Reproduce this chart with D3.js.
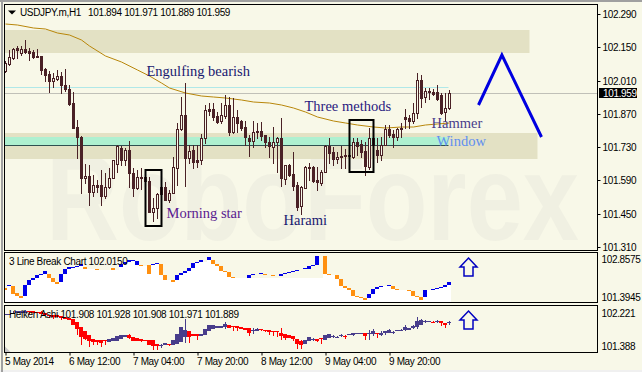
<!DOCTYPE html>
<html>
<head>
<meta charset="utf-8">
<style>
  html, body { margin: 0; padding: 0; background: #f8f8e8; overflow: hidden; }
  text { font-family: 'Liberation Sans', sans-serif; font-size: 10px; letter-spacing: -0.35px; fill: #000; }
  .note { font-family: 'Liberation Serif', serif; font-size: 14.5px; letter-spacing: 0; }
  .domain { display: none; }
  .tick line { stroke: #000; }
</style>
<script src="https://cdn.jsdelivr.net/npm/d3@7"></script>
</head>
<body>
<script>
// main chart, one value per hourly bar
const highs = [
  102.094,102.140,102.149,102.157,102.157,102.182,102.149,102.140,102.144,102.115,
  102.064,102.052,102.043,102.056,102.047,102.060,101.993,101.963,101.845,101.777,
  101.659,101.655,101.613,101.592,101.634,101.621,101.643,101.676,101.739,101.735,
  101.727,101.756,101.643,101.634,101.643,101.613,101.605,101.516,101.537,101.571,
  101.584,101.550,101.689,101.832,101.942,102.001,101.739,101.739,101.739,101.786,
  101.908,101.917,101.917,101.879,101.917,101.950,101.942,101.938,101.887,101.845,
  101.841,101.782,101.841,101.832,101.837,101.782,101.773,101.815,101.773,101.853,
  101.655,101.659,101.710,101.584,101.567,101.651,101.664,101.651,101.647,101.634,
  101.739,101.769,101.731,101.710,101.735,101.723,101.718,101.769,101.769,101.761,
  101.752,101.811,101.777,101.769,101.773,101.824,101.824,101.803,101.811,101.832,
  101.891,101.866,101.917,102.043,102.035,101.980,101.980,101.976,101.993,101.959,101.959,101.971
]
const lows = [
  102.047,102.077,102.102,102.106,102.119,102.127,102.098,102.106,102.111,102.039,
  102.009,101.963,101.984,102.014,101.959,101.967,101.908,101.811,101.685,101.537,
  101.579,101.486,101.524,101.541,101.486,101.516,101.558,101.600,101.626,101.655,
  101.655,101.562,101.524,101.554,101.554,101.579,101.457,101.419,101.432,101.486,
  101.508,101.499,101.537,101.571,101.803,101.567,101.664,101.643,101.647,101.659,
  101.748,101.866,101.845,101.832,101.832,101.853,101.782,101.790,101.794,101.803,
  101.739,101.693,101.731,101.769,101.761,101.731,101.689,101.664,101.626,101.567,
  101.575,101.609,101.550,101.465,101.449,101.558,101.592,101.584,101.550,101.571,
  101.626,101.664,101.655,101.664,101.643,101.643,101.634,101.685,101.697,101.689,
  101.613,101.638,101.626,101.668,101.676,101.739,101.773,101.731,101.761,101.773,
  101.811,101.811,101.832,101.853,101.900,101.921,101.934,101.950,101.929,101.870,101.841,101.889
]
const opens = [
  102.052,102.081,102.106,102.149,102.127,102.144,102.136,102.132,102.115,102.115,
  102.060,102.039,102.009,102.018,102.030,101.993,101.976,101.917,101.815,101.773,
  101.600,101.609,101.541,101.571,101.571,101.524,101.562,101.600,101.659,101.727,
  101.676,101.718,101.621,101.558,101.605,101.605,101.588,101.457,101.474,101.533,
  101.562,101.508,101.537,101.643,101.807,101.866,101.685,101.718,101.676,101.676,
  101.769,101.891,101.891,101.862,101.841,101.862,101.908,101.794,101.858,101.841,
  101.815,101.769,101.756,101.794,101.799,101.782,101.752,101.731,101.752,101.769,
  101.596,101.655,101.617,101.571,101.482,101.558,101.647,101.647,101.592,101.579,
  101.626,101.735,101.710,101.681,101.689,101.697,101.697,101.689,101.752,101.744,
  101.714,101.647,101.769,101.718,101.697,101.739,101.807,101.786,101.773,101.807,
  101.858,101.853,101.841,101.874,102.014,101.942,101.967,101.963,101.963,101.950,101.879,101.894
]
const closes = [
  102.085,102.111,102.144,102.140,102.144,102.132,102.127,102.111,102.111,102.056,
  102.035,102.009,102.022,102.030,101.993,101.976,101.912,101.811,101.773,101.600,
  101.609,101.541,101.571,101.562,101.524,101.562,101.600,101.676,101.735,101.676,
  101.718,101.621,101.558,101.605,101.600,101.588,101.457,101.474,101.533,101.562,
  101.508,101.537,101.647,101.807,101.866,101.685,101.714,101.668,101.668,101.769,
  101.887,101.883,101.858,101.837,101.866,101.908,101.794,101.858,101.832,101.811,
  101.773,101.756,101.794,101.799,101.777,101.752,101.735,101.752,101.769,101.600,
  101.655,101.613,101.567,101.478,101.562,101.647,101.643,101.588,101.584,101.626,
  101.735,101.706,101.681,101.689,101.693,101.693,101.693,101.752,101.735,101.710,
  101.651,101.769,101.739,101.697,101.739,101.807,101.782,101.773,101.807,101.811,
  101.849,101.841,101.874,102.014,101.938,101.967,101.963,101.955,101.934,101.874,101.896,101.959
]

// moving average, read at every few bars
const maBars = [0,3,7,10,13,16,19,21,25,29,33,36,39,41,45,49,52,55,59,62,66,69,72,75,78,82,85,88,92,95,99,102,105,108,111]
const maValues = [
  102.248,102.243,102.233,102.227,102.212,102.201,102.182,102.157,102.115,102.087,
  102.054,102.030,102.001,101.980,101.959,101.946,101.940,101.938,101.929,101.921,
  101.917,101.908,101.896,101.879,101.858,101.841,101.832,101.824,101.815,101.811,
  101.815,101.815,101.822,101.828,101.830
]

// 3 line break, open equal to close means no new line on that bar
const breakOpens = [
  101.741,101.818,101.818,101.549,101.433,101.433,101.857,102.049,102.126,102.242,
  102.280,102.280,102.126,101.972,101.972,102.280,102.473,102.531,102.550,102.588,
  102.550,102.473,102.473,102.473,102.434,102.434,102.434,102.511,102.434,102.531,
  102.665,102.742,102.819,102.627,102.627,102.588,102.627,102.627,102.665,102.665,
  102.242,102.049,102.049,102.049,102.242,102.319,102.396,102.511,102.704,102.742,
  102.742,102.819,102.819,102.665,102.588,102.396,102.357,102.165,102.126,102.126,
  102.126,102.126,102.242,102.242,102.280,102.280,102.242,102.242,102.203,102.203,
  102.280,102.319,102.357,102.396,102.396,102.492,102.473,102.588,102.627,102.627,
  102.973,102.280,102.242,102.242,102.088,101.818,101.741,101.664,101.433,101.395,
  101.356,101.356,101.510,101.703,101.780,101.818,101.818,101.818,101.703,101.664,
  101.664,101.664,101.626,101.433,101.395,101.395,101.664,101.664,101.703,101.741,
  101.780,101.857
]
const breakCloses = [
  101.664,101.857,101.510,101.433,101.356,101.857,102.049,102.126,102.242,102.280,
  102.396,102.126,101.972,101.895,102.280,102.473,102.550,102.550,102.588,102.665,
  102.473,102.473,102.473,102.434,102.434,102.434,102.434,102.434,102.434,102.665,
  102.742,102.819,102.838,102.781,102.588,102.588,102.280,102.684,102.704,102.242,
  102.049,102.049,101.972,102.242,102.319,102.396,102.511,102.704,102.742,102.819,
  102.742,102.935,102.665,102.588,102.396,102.357,102.165,102.126,102.126,102.126,
  102.126,102.242,102.280,102.242,102.319,102.242,102.242,102.203,102.203,102.280,
  102.319,102.357,102.396,102.434,102.396,102.530,102.588,102.627,102.973,102.627,
  102.280,102.242,102.242,102.088,101.818,101.741,101.664,101.433,101.395,101.356,
  101.279,101.510,101.703,101.780,101.818,101.818,101.857,101.703,101.664,101.664,
  101.664,101.626,101.433,101.395,101.279,101.664,101.664,101.703,101.741,101.780,
  101.857,101.972
]
// the pale fill stays at this level over this run of bars
const breakFlatBars = [61, 79]
const breakFlatLevel = 102.126

// heiken ashi
const haHighs = [
  102.196,102.205,102.272,102.264,102.272,102.306,102.272,102.272,102.247,102.272,
  102.213,102.179,102.163,102.163,102.137,102.112,102.095,102.079,101.994,101.868,
  101.759,101.658,101.574,101.548,101.532,101.540,101.557,101.591,101.641,101.675,
  101.675,101.700,101.616,101.591,101.574,101.548,101.548,101.532,101.448,101.448,
  101.473,101.448,101.532,101.700,101.868,102.062,101.759,101.700,101.700,101.700,
  101.826,101.927,101.910,101.893,101.893,101.994,101.910,101.893,101.893,101.860,
  101.843,101.843,101.843,101.843,101.826,101.801,101.792,101.776,101.767,101.851,
  101.700,101.658,101.641,101.574,101.532,101.548,101.607,101.599,101.557,101.591,
  101.658,101.700,101.658,101.641,101.700,101.658,101.683,101.725,101.725,101.708,
  101.708,101.784,101.826,101.708,101.759,101.776,101.826,101.759,101.792,101.826,
  101.910,101.843,101.927,102.112,102.079,102.045,102.028,102.011,102.036,102.011,101.978,102.020
]
const haLows = [
  102.163,102.163,102.188,102.213,102.222,102.230,102.205,102.230,102.213,102.205,
  102.163,102.095,102.079,102.129,102.053,102.079,102.045,101.910,101.658,101.422,
  101.532,101.363,101.405,101.405,101.363,101.422,101.490,101.506,101.523,101.574,
  101.616,101.574,101.506,101.506,101.490,101.532,101.422,101.279,101.279,101.338,
  101.422,101.389,101.422,101.448,101.490,101.473,101.473,101.641,101.532,101.641,
  101.658,101.759,101.809,101.843,101.851,101.826,101.851,101.776,101.767,101.826,
  101.784,101.641,101.700,101.759,101.759,101.742,101.658,101.641,101.616,101.532,
  101.532,101.591,101.506,101.321,101.304,101.448,101.506,101.506,101.490,101.439,
  101.532,101.591,101.591,101.591,101.607,101.574,101.658,101.641,101.683,101.691,
  101.540,101.548,101.641,101.599,101.633,101.675,101.725,101.691,101.759,101.759,
  101.776,101.801,101.826,101.826,101.910,101.969,102.011,101.961,101.969,101.893,101.843,101.910
]
const haOpens = [
  102.163,102.163,102.188,102.213,102.222,102.230,102.272,102.272,102.247,102.238,
  102.213,102.179,102.163,102.163,102.137,102.112,102.095,102.079,101.994,101.868,
  101.759,101.658,101.574,101.548,101.532,101.540,101.490,101.506,101.523,101.574,
  101.616,101.675,101.616,101.591,101.574,101.548,101.548,101.532,101.448,101.389,
  101.422,101.448,101.422,101.448,101.490,101.616,101.759,101.700,101.700,101.641,
  101.658,101.759,101.809,101.843,101.851,101.868,101.910,101.893,101.893,101.860,
  101.843,101.843,101.759,101.776,101.826,101.801,101.792,101.776,101.767,101.725,
  101.700,101.658,101.641,101.574,101.506,101.448,101.506,101.540,101.557,101.591,
  101.532,101.591,101.616,101.607,101.641,101.641,101.658,101.658,101.683,101.691,
  101.708,101.683,101.683,101.708,101.675,101.708,101.725,101.708,101.759,101.759,
  101.792,101.801,101.843,101.860,101.927,101.986,102.011,101.994,101.994,102.011,101.978,101.961
]
const haCloses = [
  102.196,102.205,102.230,102.264,102.272,102.280,102.247,102.230,102.213,102.205,
  102.163,102.137,102.129,102.129,102.095,102.079,102.045,101.910,101.826,101.616,
  101.574,101.506,101.490,101.490,101.473,101.532,101.557,101.591,101.641,101.675,
  101.675,101.599,101.506,101.506,101.523,101.532,101.422,101.389,101.389,101.422,
  101.473,101.431,101.532,101.700,101.868,101.784,101.616,101.641,101.641,101.700,
  101.826,101.927,101.910,101.893,101.893,101.935,101.851,101.868,101.843,101.826,
  101.784,101.725,101.784,101.826,101.809,101.759,101.750,101.742,101.742,101.641,
  101.591,101.591,101.574,101.448,101.422,101.548,101.607,101.565,101.523,101.574,
  101.658,101.700,101.641,101.624,101.658,101.616,101.683,101.708,101.725,101.708,
  101.633,101.708,101.759,101.683,101.708,101.776,101.801,101.742,101.792,101.801,
  101.860,101.843,101.893,102.011,102.036,102.020,102.028,101.978,102.020,101.978,101.927,101.986
]

// horizontal levels and zones on the main chart
const upperZone = [102.224, 102.124]
const lowerZone = [101.790, 101.680]
const greenZone = [101.773, 101.737]
const levelCyan = 101.982
const levelDark = 101.737
const bidPrice = 101.959
const zigzagBars = [118.25, 124.1, 134]
const zigzagPrices = [101.908, 102.119, 101.773]

// boxes around the patterns, first bar, last bar, top price, bottom price
const boxBars = [[35, 39], [86, 92]]
const boxPrices = [[101.634, 101.398], [101.845, 101.626]]

const noteLabels = ['Engulfing bearish', 'Morning star', 'Harami', 'Three methods', 'Hammer', 'Window']
const noteBars = [35.25, 40.25, 69.5, 74.75, 106.5, 107.75]
const notePrices = [102.030, 101.432, 101.402, 101.884, 101.811, 101.735]
const noteColors = ['#191970', '#5a1a90', '#191970', '#2a1a80', '#483d8b', '#5f8ff0']

const dateLabels = ['5 May 2014', '6 May 12:00', '7 May 04:00', '7 May 20:00', '8 May 12:00', '9 May 04:00', '9 May 20:00']
const dateBars = [0, 16, 32, 48, 64, 80, 96]
const mainTicks = [102.290, 102.150, 102.010, 101.870, 101.730, 101.590, 101.450, 101.310]
const breakTicks = [102.8575, 101.3945]
const haTicks = [102.221, 101.388]

const bg = '#f8f8e8'
const candleColor = '#4a2126'
const slate = '#483d8b'
const panelLeft = 4.5
const panelRight = 597.5

const svg = d3.select('body').append('svg')
    .attr('width', 642)
    .attr('height', 372)
    .style('display', 'block')

const x = d3.scaleLinear().domain([0, 1]).range([5.5, 9.5])
const y = d3.scaleLinear().domain([102.29, 101.31]).rangeRound([14, 247])
const yBreak = d3.scaleLinear().domain([102.8575, 101.3945]).rangeRound([259, 297])
const yHa = d3.scaleLinear().domain([102.221, 101.388]).rangeRound([313, 346])

const bars = d3.range(highs.length)
const panels = [[4.5, 250.5], [252.5, 302.5], [305.5, 352.5]]

// window frame
svg.append('rect').attr('width', 642).attr('height', 2).attr('fill', '#a0a0a0')
svg.append('rect').attr('y', 370).attr('width', 642).attr('height', 2).attr('fill', '#f0f0f0')
svg.append('rect').attr('x', 1).attr('width', 2).attr('height', 372).attr('fill', '#a0a0a0')

panels.forEach(([top, bottom], i) => {
  svg.append('clipPath').attr('id', `clip${i}`)
    .append('rect')
      .attr('x', panelLeft)
      .attr('y', top)
      .attr('width', panelRight - panelLeft)
      .attr('height', bottom - top)
})

const main = svg.append('g').attr('clip-path', 'url(#clip0)')

main.append('text')
    .attr('x', 46)
    .attr('y', 240)
    .attr('textLength', 533)
    .attr('lengthAdjust', 'spacingAndGlyphs')
    .style('font-size', '122px')
    .style('font-weight', 'bold')
    .style('letter-spacing', '0')
    .style('fill', '#f0f0e2')
    .text('RoboForex')

const zone = (prices, right, color) => main.append('rect')
    .attr('x', panelLeft)
    .attr('y', y(prices[0]))
    .attr('width', right - panelLeft)
    .attr('height', y(prices[1]) - y(prices[0]))
    .attr('fill', color)

zone(upperZone, x(131), '#e3e1c4')
zone(lowerZone, x(133), '#e3e1c4')
zone(greenZone, x(110.75), '#aef0d0')

const hline = (price, right, color) => main.append('line')
    .attr('x1', panelLeft)
    .attr('x2', right)
    .attr('y1', y(price) + 0.5)
    .attr('y2', y(price) + 0.5)
    .attr('stroke', color)

hline(levelCyan, x(110.75), '#b0e8e8')
hline(bidPrice, panelRight, '#c0c0b8')
hline(levelDark, x(110.75), '#2f5050')

const ma = d3.line()
    .x((d, i) => x(maBars[i]))
    .y(d => y(d))

main.append('path')
    .attr('d', ma(maValues))
    .attr('fill', 'none')
    .attr('stroke', '#b8860b')

const candles = main.selectAll('.candle')
  .data(bars)
  .enter().append('g')
    .attr('class', 'candle')

candles.append('line')
    .attr('x1', i => x(i))
    .attr('x2', i => x(i))
    .attr('y1', i => y(highs[i]))
    .attr('y2', i => y(lows[i]) + 1)
    .attr('stroke', candleColor)

candles.append('rect')
    .attr('x', i => x(i) - 1)
    .attr('width', 2)
    .attr('y', i => y(Math.max(opens[i], closes[i])) + 0.5)
    .attr('height', i => Math.abs(y(opens[i]) - y(closes[i])))
    .attr('fill', i => closes[i] > opens[i] ? bg : candleColor)
    .attr('stroke', candleColor)

main.selectAll('.box')
  .data(boxBars)
  .enter().append('rect')
    .attr('class', 'box')
    .attr('x', d => x(d[0]))
    .attr('width', d => x(d[1]) - x(d[0]))
    .attr('y', (d, i) => y(boxPrices[i][0]))
    .attr('height', (d, i) => y(boxPrices[i][1]) - y(boxPrices[i][0]))
    .attr('fill', 'none')
    .attr('stroke', '#000')
    .attr('stroke-width', 2)

const zigzag = d3.line()
    .x((d, i) => x(zigzagBars[i]))
    .y(d => y(d))

main.append('path')
    .attr('d', zigzag(zigzagPrices))
    .attr('fill', 'none')
    .attr('stroke', '#0000e0')
    .attr('stroke-width', 3)

main.selectAll('.note')
  .data(noteLabels)
  .enter().append('text')
    .attr('class', 'note')
    .attr('x', (d, i) => x(noteBars[i]))
    .attr('y', (d, i) => y(notePrices[i]))
    .style('fill', (d, i) => noteColors[i])
    .text(d => d)

// 3 line break
const breakPanel = svg.append('g').attr('clip-path', 'url(#clip1)')

const floorLevel = i => i >= breakFlatBars[0] && i <= breakFlatBars[1]
  ? breakFlatLevel
  : Math.min(breakOpens[i], breakCloses[i])

breakPanel.selectAll('.floor')
  .data(bars)
  .enter().append('rect')
    .attr('class', 'floor')
    .attr('x', i => x(i) - 2.5)
    .attr('width', 4)
    .attr('y', i => yBreak(floorLevel(i)))
    .attr('height', i => 303 - yBreak(floorLevel(i)))
    .attr('fill', '#fff')

breakPanel.selectAll('.line-break')
  .data(bars.filter(i => breakOpens[i] !== breakCloses[i]))
  .enter().append('rect')
    .attr('class', 'line-break')
    .attr('x', i => x(i) - 2.5)
    .attr('width', 4)
    .attr('y', i => yBreak(Math.max(breakOpens[i], breakCloses[i])))
    .attr('height', i => Math.max(1, Math.abs(yBreak(breakOpens[i]) - yBreak(breakCloses[i]))))
    .attr('fill', i => breakCloses[i] > breakOpens[i] ? '#0000e8' : '#ff9010')

// heiken ashi
const haPanel = svg.append('g').attr('clip-path', 'url(#clip2)')
const haColor = i => haCloses[i] > haOpens[i] ? slate : '#ff0000'

const ha = haPanel.selectAll('.ha')
  .data(bars)
  .enter().append('g')
    .attr('class', 'ha')

ha.append('line')
    .attr('x1', i => x(i))
    .attr('x2', i => x(i))
    .attr('y1', i => yHa(haHighs[i]))
    .attr('y2', i => yHa(haLows[i]))
    .attr('stroke', haColor)

ha.append('rect')
    .attr('x', i => x(i) - 2.5)
    .attr('width', 4)
    .attr('y', i => yHa(Math.max(haOpens[i], haCloses[i])))
    .attr('height', i => Math.max(1, Math.abs(yHa(haOpens[i]) - yHa(haCloses[i]))))
    .attr('fill', haColor)

haPanel.append('path')
    .attr('d', 'M4.5,346L11,352.5H4.5Z')
    .attr('fill', '#c8c8c8')

// up arrows in the indicator panels
const arrow = 'M0,0L8.5,9H4.5V18H-4.5V9H-8.5Z'
const arrowBar = 115.75
const arrowPanels = [yBreak(102.9), yHa(102.261)]
arrowPanels.forEach(top => {
  svg.append('path')
      .attr('d', arrow)
      .attr('transform', `translate(${x(arrowBar)},${top})`)
      .attr('fill', bg)
      .attr('stroke', '#0000c0')
      .attr('stroke-width', 1.5)
})

// frames and axes
panels.forEach(([top, bottom]) => {
  svg.append('rect')
      .attr('x', panelLeft)
      .attr('y', top)
      .attr('width', panelRight - panelLeft)
      .attr('height', bottom - top)
      .attr('fill', 'none')
      .attr('stroke', '#000')
})

const axisRight = (scale, ticks, format, size) => svg.append('g')
    .attr('transform', `translate(${panelRight},0)`)
    .call(d3.axisRight(scale).tickValues(ticks).tickFormat(format).tickSize(size).tickPadding(size ? 2 : 4))

axisRight(y, mainTicks, d3.format('.3f'), 3)
axisRight(yBreak, breakTicks, d3.format('.4f'), 0)
axisRight(yHa, haTicks, d3.format('.3f'), 0)

svg.append('rect')
    .attr('x', 599)
    .attr('y', y(bidPrice) - 5)
    .attr('width', 38)
    .attr('height', 10)
    .attr('fill', '#000')

svg.append('text')
    .attr('x', 603)
    .attr('y', y(bidPrice) + 4)
    .style('fill', '#fff')
    .text(d3.format('.3f')(bidPrice))

const xAxis = svg.append('g')
    .attr('transform', 'translate(0,352.5)')
    .call(d3.axisBottom(x).tickValues(dateBars).tickSize(3).tickFormat((d, i) => dateLabels[i]))

xAxis.selectAll('text')
    .attr('text-anchor', 'start')
    .attr('x', -1)
    .attr('y', 5)

// titles
svg.append('path').attr('d', 'M8,10.5H16L12,14.5Z').attr('fill', '#000')

const title = (text, left, top) => svg.append('text')
    .attr('x', left)
    .attr('y', top)
    .text(text)

title('USDJPY.m,H1', 20, 16)
title('101.894 101.971 101.889 101.959', 88, 16)
title('3 Line Break Chart 102.0150', 9, 265)
title('Heiken Ashi 101.908 101.928 101.908 101.971 101.889', 9, 318)
</script>
</body>
</html>
